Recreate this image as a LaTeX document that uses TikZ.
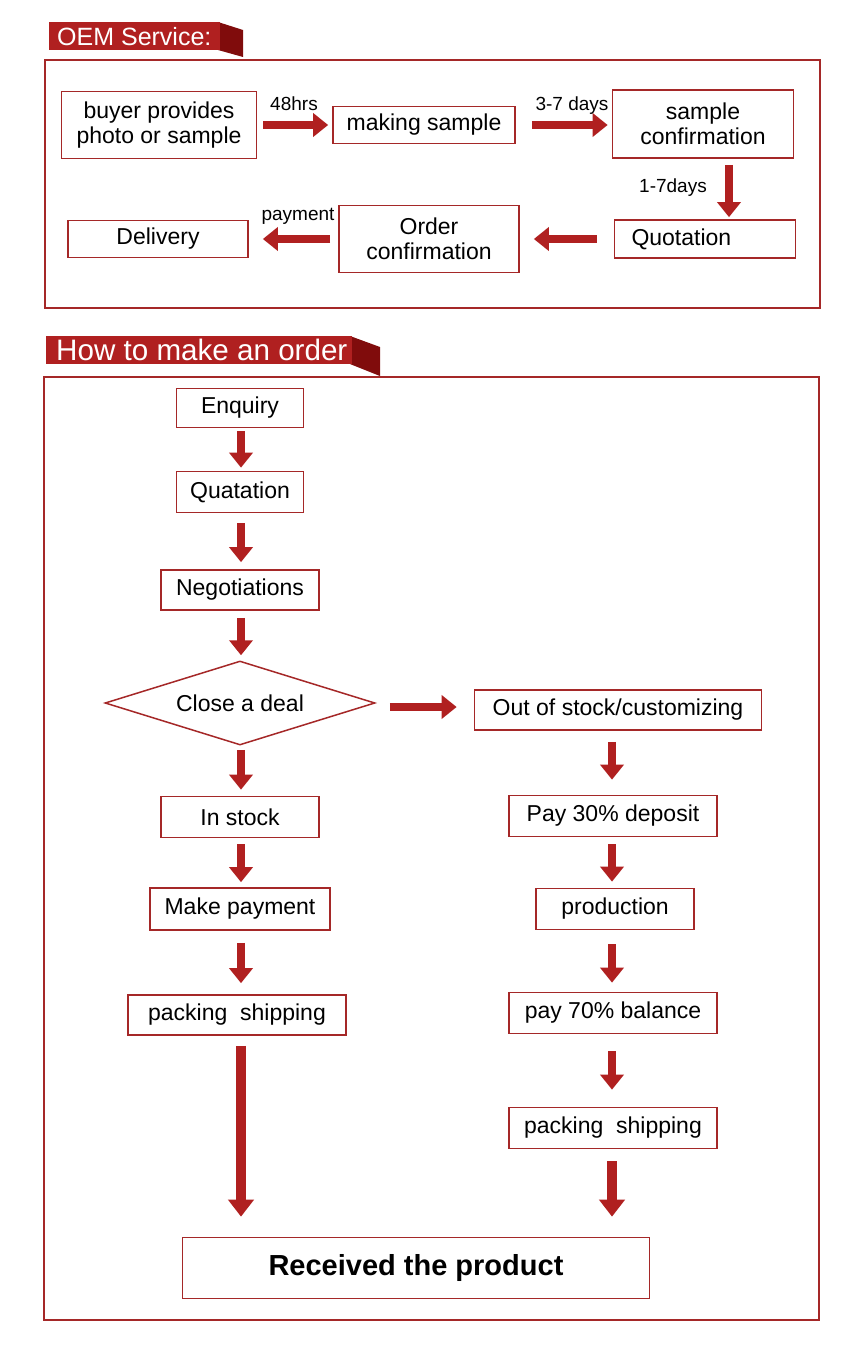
\documentclass[tikz,border=0pt]{standalone}
\usepackage{fontspec}
\setmainfont{Liberation Sans}
\usetikzlibrary{arrows.meta,shapes.geometric}
\definecolor{oemred}{RGB}{176,32,32}
\definecolor{folddark}{RGB}{128,12,12}
\definecolor{framered}{RGB}{165,40,40}

\begin{document}
\begin{tikzpicture}[x=1pt, y=-1pt,
  box/.style={draw=framered, line width=1.7pt, fill=white, align=center, inner sep=0pt,
    font=\fontsize{23}{25}\selectfont},
  bigarrow/.style={draw=oemred, line width=8pt, -{Triangle[width=23pt,length=15pt]}},
  lbl/.style={font=\fontsize{19}{21}\selectfont},
  tabtext/.style={anchor=west, text=white, inner sep=0pt}]
  \useasboundingbox (0,0) rectangle (850,1346);
  % headers
  \fill [folddark] (218,22) -- (243,30) -- (243,57) -- (218,50) -- cycle;
  \fill [oemred] (49,22) rectangle (220,50);
  \node [tabtext, font=\fontsize{25}{27}\selectfont] (oemtitle) at (57,37) {OEM Service:};
  \fill [folddark] (350,336) -- (380,347) -- (380,376) -- (350,364) -- cycle;
  \fill [oemred] (46,336) rectangle (352,364);
  \node [tabtext, font=\fontsize{29.6}{31}\selectfont] (ordertitle) at (56,350) {How to make an order};
  % frames
  \draw [framered, line width=2.4pt] (45,60) rectangle (820,308);
  \draw [framered, line width=2.4pt] (44,377) rectangle (819,1320);

  % OEM service
  \node [box, minimum width=195pt, minimum height=67pt] (buyer) at (159,125) {buyer provides\\photo or sample};
  \node [box, minimum width=182pt, minimum height=37pt] (mksample) at (424,125) {making sample};
  \node [box, minimum width=181pt, minimum height=68pt] (sampconf) at (703,124) {sample\\confirmation};
  \node [box, minimum height=38pt, text width=147pt, inner xsep=17pt, align=left] (quot) at (705,239) {Quotation};
  \node [box, minimum width=180pt, minimum height=67pt] (ordconf) at (429,239) {Order\\confirmation};
  \node [box, minimum width=180pt, minimum height=37pt] (deliv) at (158,239) {Delivery};
  \draw [bigarrow, shorten <=6pt, shorten >=4pt] (buyer) -- (mksample);
  \draw [bigarrow, shorten <=16pt, shorten >=4pt] (mksample.east) -- (mksample.east -| sampconf.west);
  \draw [bigarrow, shorten <=6pt, shorten >=2pt] ([xshift=26pt]sampconf.south) -- ([xshift=24pt]quot.north);
  \draw [bigarrow, shorten <=17pt, shorten >=14pt] (quot) -- (ordconf);
  \draw [bigarrow, shorten <=8pt, shorten >=14pt] (ordconf) -- (deliv);
  \node [lbl] (l48) at (294,104) {48hrs};
  \node [lbl] (l37) at (572,106) {3-7 days};
  \node [lbl] (l17) at (673,188) {1-7days};
  \node [lbl] (lpay) at (298,216) {payment};

  % how to make an order
  \node [box, minimum width=127pt, minimum height=39pt] (enq) at (240,408) {Enquiry};
  \node [box, minimum width=127pt, minimum height=41pt] (quat) at (240,492) {Quatation};
  \node [box, minimum width=158pt, minimum height=40pt] (nego) at (240,590) {Negotiations};
  \node [box, diamond, shape aspect=3.2, minimum width=270pt, minimum height=84pt, line width=1.5pt] (deal) at (240,703) {Close a deal};
  \node [box, minimum width=158pt, minimum height=41pt] (instock) at (240,817) {In stock};
  \node [box, minimum width=180pt, minimum height=42pt] (makepay) at (240,909) {Make payment};
  \node [box, minimum width=218pt, minimum height=40pt] (packL) at (237,1015) {packing\ \ shipping};
  \node [box, minimum width=287pt, minimum height=40pt] (outstock) at (618,710) {Out of stock/customizing};
  \node [box, minimum width=208pt, minimum height=41pt] (pay30) at (613,816) {Pay 30\% deposit};
  \node [box, minimum width=158pt, minimum height=41pt] (prod) at (615,909) {production};
  \node [box, minimum width=208pt, minimum height=41pt] (pay70) at (613,1013) {pay 70\% balance};
  \node [box, minimum width=208pt, minimum height=41pt] (packR) at (613,1128) {packing\ \ shipping};
  \node [box, minimum width=467pt, minimum height=61pt, font=\fontsize{29}{31}\selectfont\bfseries] (recv) at (416,1268) {Received the product};

  \foreach \a/\b/\s/\e in {enq/quat/3/3, quat/nego/10/7, nego/deal/7/5, deal/instock/4/6,
                           instock/makepay/6/5, makepay/packL/12/11} {
    \draw [bigarrow, shorten <=\s pt, shorten >=\e pt] (\a.south -| 241,0) -- (\b.north -| 241,0);
  };
  \foreach \a/\b/\s/\e in {outstock/pay30/11/15, pay30/prod/7/6, prod/pay70/14/9, pay70/packR/17/17} {
    \draw [bigarrow, shorten <=\s pt, shorten >=\e pt] (\a.south -| 612,0) -- (\b.north -| 612,0);
  };
  \draw [bigarrow, shorten <=14pt, shorten >=17pt] (deal.east |- 0,707) -- (outstock.west |- 0,707);
  \draw [bigarrow, line width=10pt, -{Triangle[width=25pt,length=17pt]}, shorten <=10pt, shorten >=20pt] (packL.south -| 241,0) -- (recv.north -| 241,0);
  \draw [bigarrow, line width=10pt, -{Triangle[width=25pt,length=17pt]}, shorten <=12pt, shorten >=20pt] (packR.south -| 612,0) -- (recv.north -| 612,0);
\end{tikzpicture}
\end{document}
